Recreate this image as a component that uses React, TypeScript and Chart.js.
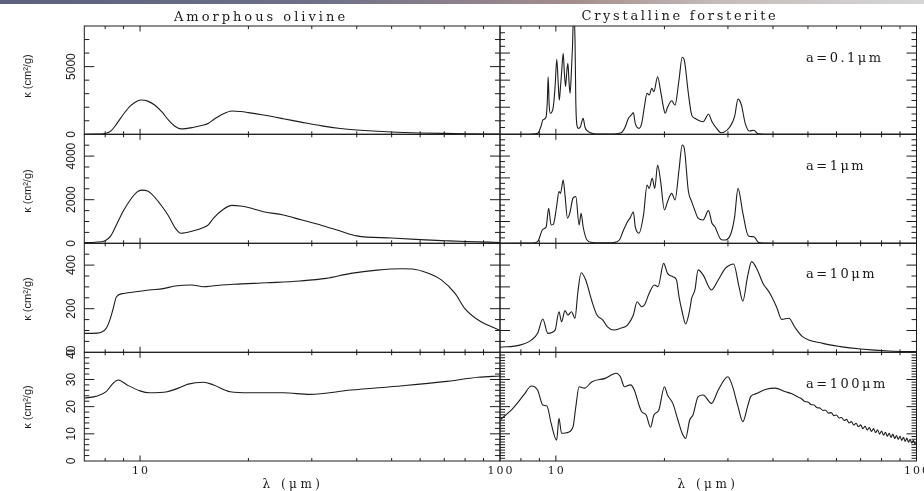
import React, { useEffect, useRef } from 'react';
import { Chart, registerables } from 'chart.js';

Chart.register(...registerables);

// ---------------- data ----------------
// Amorphous olivine, a = 0.1 um and a = 1 um (shared wavelength grid)
const AO_WAVE_SMALL = [7, 7.5, 8, 8.3, 8.6, 9.0, 9.4, 9.8, 10.1, 10.5, 11, 11.5, 12, 12.5, 13, 14, 15, 15.5, 16, 17, 18, 19, 20, 22, 25, 28, 32, 36, 40, 50, 60, 70, 80, 100];
const AO_KAPPA_01 = [5, 10, 60, 250, 750, 1500, 2100, 2450, 2530, 2450, 2150, 1650, 1050, 600, 400, 500, 680, 820, 1080, 1500, 1720, 1680, 1600, 1420, 1150, 900, 620, 430, 320, 170, 100, 65, 45, 20];
const AO_KAPPA_1 = [30, 50, 120, 350, 850, 1500, 2000, 2350, 2440, 2400, 2100, 1700, 1250, 720, 460, 560, 720, 860, 1150, 1550, 1740, 1710, 1640, 1450, 1300, 1080, 820, 560, 340, 240, 170, 120, 80, 40];

// Amorphous olivine, a = 10 um
const AO_WAVE_10 = [7, 7.6, 8.05, 8.25, 8.4, 8.6, 9.0, 10, 10.6, 11.6, 12.5, 13.9, 15, 16, 18.2, 22.5, 27.8, 32.9, 38.5, 45.5, 53.6, 57, 62.6, 68.7, 75, 80, 87, 100];
const AO_KAPPA_10 = [87, 88, 110, 150, 194, 255, 270, 280, 286, 292, 304, 309, 301, 305, 312, 319, 327, 339, 362, 377, 383, 382, 365, 332, 270, 199, 148, 100];

// Amorphous olivine, a = 100 um
const AO_WAVE_100 = [7, 7.6, 8.05, 8.4, 8.7, 9.2, 10, 10.6, 11.9, 13, 13.6, 15, 16, 17.8, 20.2, 25, 29.6, 38.5, 53.6, 70, 87, 100];
const AO_KAPPA_100 = [23.1, 23.9, 25.5, 28.5, 29.8, 28, 25.8, 25.1, 25.5, 27.2, 28.3, 29.0, 28, 25.5, 25.1, 25.1, 24.5, 26.1, 27.7, 29.2, 30.8, 31.3];

// Crystalline forsterite, a = 0.1 um
const CF_WAVE_01 = [7, 8, 8.6, 8.9, 9.1, 9.2, 9.4, 9.47, 9.52, 9.58, 9.65, 9.84, 9.95, 10.06, 10.15, 10.22, 10.3, 10.37, 10.48, 10.56, 10.64, 10.72, 10.8, 10.88, 10.95, 11.05, 11.12, 11.2, 11.3, 11.36, 11.45, 11.55, 11.7, 11.9, 12.05, 12.3, 12.6, 13.5, 14.5, 15.0, 15.3, 15.6, 15.9, 16.2, 16.4, 16.6, 17.0, 17.3, 17.6, 17.9, 18.15, 18.45, 18.7, 19.15, 19.5, 19.9, 20.1, 20.4, 20.95, 21.4, 21.95, 22.4, 22.7, 23.3, 23.8, 24.3, 25, 25.6, 26.5, 27.1, 27.9, 28.7, 29.2, 30.4, 31.3, 32, 32.7, 33.5, 34.4, 35.4, 36.4, 38, 45, 100];
const CF_KAPPA_01 = [0, 0, 10, 70, 600, 1060, 1300, 2500, 4250, 2200, 1550, 2040, 3500, 5540, 3800, 2530, 3500, 4500, 5980, 4500, 3520, 4600, 5240, 3800, 3030, 4800, 6470, 9000, 7000, 2290, 600, 440, 560, 1180, 500, 200, 80, 10, 15, 80, 190, 600, 1180, 1430, 1600, 810, 440, 810, 2040, 3030, 2900, 3400, 3150, 4250, 3270, 1920, 1550, 1990, 2480, 2160, 4010, 5690, 5490, 3030, 1430, 1180, 1000, 930, 1480, 930, 440, 120, 150, 560, 1300, 2600, 2160, 810, 245, 300, 30, 5, 0, 0];

// Crystalline forsterite, a = 1 um
const CF_WAVE_1 = [7, 8.6, 8.9, 9.2, 9.4, 9.55, 9.7, 9.84, 10.05, 10.2, 10.3, 10.48, 10.6, 10.77, 10.93, 11.15, 11.36, 11.6, 11.75, 11.9, 12.2, 12.6, 13.2, 14.5, 15, 15.4, 15.8, 16.1, 16.4, 16.6, 17.0, 17.5, 17.9, 18.15, 18.5, 18.8, 19.15, 19.5, 20, 20.4, 20.95, 21.4, 21.95, 22.4, 22.7, 23.3, 23.8, 24.3, 24.8, 25.6, 26.5, 27.1, 27.6, 28.7, 29.5, 30.6, 31.3, 32, 33, 34.2, 35.4, 36.4, 37.4, 45, 100];
const CF_KAPPA_1 = [0, 10, 75, 640, 760, 1600, 840, 870, 1700, 2370, 2290, 2900, 2215, 1150, 1380, 2060, 2140, 840, 1380, 760, 150, 40, 20, 40, 150, 600, 990, 1190, 1450, 760, 460, 1300, 2670, 2520, 2980, 2520, 3590, 2900, 1530, 1910, 2290, 1990, 3360, 4510, 4360, 2400, 1910, 1500, 1150, 1070, 1500, 920, 760, 180, 150, 460, 1200, 2520, 1380, 335, 300, 50, 10, 0, 0];

// Crystalline forsterite, a = 10 um
const CF_WAVE_10 = [7, 7.95, 8.55, 8.9, 9.2, 9.5, 9.95, 10.2, 10.37, 10.6, 10.8, 11.05, 11.3, 11.5, 11.75, 12.1, 12.6, 13, 13.5, 13.9, 14.5, 15.1, 15.8, 16.4, 16.8, 17.3, 17.6, 18.15, 18.75, 19.2, 19.9, 20.4, 21.1, 21.6, 21.95, 22.4, 22.9, 23.5, 23.8, 24.3, 24.8, 25.6, 27, 28.2, 29.5, 30.4, 31.1, 32.2, 33, 34, 34.9, 36.2, 37.5, 39.2, 40.9, 42.3, 44.3, 45.9, 48.3, 55, 61.5, 70, 84, 100];
const CF_KAPPA_10 = [23, 33, 56, 87, 153, 87, 102, 186, 140, 191, 171, 186, 156, 271, 365, 332, 232, 171, 148, 117, 102, 110, 125, 171, 232, 209, 217, 271, 309, 301, 408, 362, 347, 332, 255, 186, 130, 194, 248, 286, 378, 355, 286, 332, 385, 400, 405, 301, 235, 347, 416, 378, 317, 271, 209, 151, 156, 117, 72, 41, 26, 15, 6, 3];

// Crystalline forsterite, a = 100 um
const CF_WAVE_100 = [7, 7.6, 8.15, 8.55, 8.9, 9.2, 9.45, 9.7, 10.05, 10.2, 10.37, 10.7, 11.15, 11.36, 11.6, 12, 12.6, 13.7, 14.7, 15.1, 15.5, 16.1, 16.5, 17, 17.3, 17.8, 18.3, 18.7, 19.3, 20, 20.4, 21.1, 21.8, 22.4, 22.9, 23.5, 24, 24.8, 25.6, 27, 28.2, 30, 30.8, 32, 33, 34, 34.7, 35.8, 38.3, 40.5, 43.3, 45,
  46, 47, 48, 49, 50, 51, 52, 53, 54, 55, 56, 57, 58, 59, 60, 61, 62, 63, 64, 65, 66, 67, 68, 69, 70, 71, 72, 73, 74, 75, 76, 77, 78, 79, 80, 81, 82, 83, 84, 85, 86, 87, 88, 89, 90, 91, 92, 93, 94, 95, 96, 97, 98, 99, 100];
const CF_KAPPA_100 = [15.1, 19.4, 24.3, 27.6, 26.1, 20.6, 20.2, 13.9, 7.7, 15.7, 10.2, 10.4, 12.4, 20, 27.3, 26.8, 29.2, 30.4, 32.3, 31, 27.3, 28, 26.1, 20.6, 18.1, 16.9, 12.4, 16.9, 18.8, 27.3, 24.3, 21.2, 15.1, 10.2, 8.3, 15.1, 16.9, 23.7, 24.3, 21.2, 26.1, 31, 28, 20, 14.5, 20, 23.7, 24.7, 26.4, 26.8, 25.5, 24.8,
  24.2, 23.5, 22.9, 21.9, 21.7, 20.8, 20.6, 19.6, 19.5, 18.6, 18.7, 17.6, 17.8, 16.7, 16.9, 15.8, 16.0, 14.9, 15.3, 14.0, 14.5, 13.2, 13.9, 12.6, 13.3, 11.9, 12.8, 11.4, 12.3, 10.9, 11.9, 10.4, 11.5, 9.9, 11.0, 9.5, 10.6, 9.1, 10.2, 8.7, 9.9, 8.3, 9.4, 8.0, 9.1, 7.6, 8.7, 7.2, 8.4, 6.9, 8.0, 6.6, 7.6, 6.3, 7.0];

// axes / labels
const X_MIN = 7;
const X_MAX = 100;
const X_MINOR_TICKS = [8, 9, 20, 30, 40, 50, 60, 70, 80, 90];
const X_MAJOR_TICKS = [10];
const X_TICK_LABELS = [10, 100];
const Y_MAX = [8000, 5000, 500, 40];
const LEFT_Y_MAJOR = [5000, 2000, 200, 10];
const LEFT_Y_MINOR = [1000, 500, 50, 2];
const RIGHT_Y_MAJOR = [2000, 1000, 100, 10];
const RIGHT_Y_MINOR = [500, 250, 50, 1];
const LEFT_Y_LABELS = [[0, 5000], [0, 2000, 4000], [0, 200, 400], [0, 10, 20, 30, 40]];
const SIZE_LABELS = ['a=0.1\u03bcm', 'a=1\u03bcm', 'a=10\u03bcm', 'a=100\u03bcm'];
const COLUMN_TITLES = ['Amorphous olivine', 'Crystalline forsterite'];
const X_TITLE = '\u03bb  (\u03bcm)';
const Y_TITLE = '\u03ba (cm\u00b2/g)';

// ---------------- layout ----------------
const W = 924;
const H = 491;
const COLS = [
  { left: 84.3, right: 500 },
  { left: 500, right: 916.5 },
];
const ROWS = [
  { top: 26, bottom: 134.3 },
  { top: 134.3, bottom: 243.3 },
  { top: 243.3, bottom: 352.3 },
  { top: 352.3, bottom: 461 },
];
const INK = '#1c1c1c';
const LABEL_Y = [57, 165, 273, 383];
const YTITLE_Y = [76, 191, 299, 407];

const PANELS = [
  { row: 0, col: 0, xs: AO_WAVE_SMALL, ys: AO_KAPPA_01 },
  { row: 1, col: 0, xs: AO_WAVE_SMALL, ys: AO_KAPPA_1 },
  { row: 2, col: 0, xs: AO_WAVE_10, ys: AO_KAPPA_10 },
  { row: 3, col: 0, xs: AO_WAVE_100, ys: AO_KAPPA_100 },
  { row: 0, col: 1, xs: CF_WAVE_01, ys: CF_KAPPA_01 },
  { row: 1, col: 1, xs: CF_WAVE_1, ys: CF_KAPPA_1 },
  { row: 2, col: 1, xs: CF_WAVE_10, ys: CF_KAPPA_10 },
  { row: 3, col: 1, xs: CF_WAVE_100, ys: CF_KAPPA_100 },
];

function makeFramePlugin(row: number, col: number) {
  return {
    id: 'frame_' + row + '_' + col,
    afterDatasetsDraw(chart: any) {
      const ctx: CanvasRenderingContext2D = chart.ctx;
      const { left, right, top, bottom } = chart.chartArea;
      const xs = chart.scales.x;
      const ys = chart.scales.y;
      ctx.save();
      ctx.strokeStyle = INK;
      ctx.lineWidth = 1;
      ctx.strokeRect(left, top, right - left, bottom - top);
      ctx.beginPath();
      for (const v of X_MINOR_TICKS) {
        const p = xs.getPixelForValue(v);
        ctx.moveTo(p, bottom); ctx.lineTo(p, bottom - 3);
        ctx.moveTo(p, top); ctx.lineTo(p, top + 3);
      }
      for (const v of X_MAJOR_TICKS) {
        const p = xs.getPixelForValue(v);
        ctx.moveTo(p, bottom); ctx.lineTo(p, bottom - 5.5);
        ctx.moveTo(p, top); ctx.lineTo(p, top + 5.5);
      }
      const major = col === 0 ? LEFT_Y_MAJOR[row] : RIGHT_Y_MAJOR[row];
      const minor = col === 0 ? LEFT_Y_MINOR[row] : RIGHT_Y_MINOR[row];
      const n = Math.round(Y_MAX[row] / minor);
      for (let i = 1; i < n; i++) {
        const v = i * minor;
        const isMajor = Math.abs(v / major - Math.round(v / major)) < 1e-6;
        const len = isMajor ? 10 : 5;
        const p = ys.getPixelForValue(v);
        ctx.moveTo(left, p); ctx.lineTo(left + len, p);
        ctx.moveTo(right, p); ctx.lineTo(right - len, p);
      }
      ctx.stroke();

      ctx.fillStyle = '#1a1a1a';
      if (col === 0) {
        ctx.font = '12px "Liberation Sans", Arial, sans-serif';
        ctx.textAlign = 'center';
        ctx.textBaseline = 'middle';
        for (const v of LEFT_Y_LABELS[row]) {
          const p = ys.getPixelForValue(v);
          ctx.save();
          ctx.translate(72, p);
          ctx.rotate(-Math.PI / 2);
          ctx.fillText(String(v), 0, 0);
          ctx.restore();
        }
      }
      if (row === 3) {
        ctx.font = '11px "DejaVu Serif", serif';
        (ctx as any).letterSpacing = '2px';
        ctx.textAlign = 'center';
        ctx.textBaseline = 'middle';
        for (const v of X_TICK_LABELS) {
          const p = xs.getPixelForValue(v);
          ctx.fillText(String(v), p + 1, 471);
        }
      }
      ctx.restore();
    },
  };
}

export default function App() {
  const refs = useRef<(HTMLCanvasElement | null)[]>([]);

  useEffect(() => {
    const charts = PANELS.map((p, i) => {
      const canvas = refs.current[i] as HTMLCanvasElement;
      const c = COLS[p.col];
      const r = ROWS[p.row];
      return new Chart(canvas, {
        type: 'line',
        data: {
          datasets: [
            {
              data: p.xs.map((x, k) => ({ x, y: p.ys[k] })),
              borderColor: INK,
              borderWidth: 1.1,
              pointRadius: 0,
              fill: false,
              cubicInterpolationMode: 'monotone',
            },
          ],
        },
        options: {
          responsive: false,
          maintainAspectRatio: false,
          animation: false,
          events: [],
          layout: {
            padding: { left: c.left, right: W - c.right, top: r.top, bottom: H - r.bottom },
          },
          plugins: { legend: { display: false }, tooltip: { enabled: false } },
          scales: {
            x: { type: 'logarithmic', min: X_MIN, max: X_MAX, display: false },
            y: { type: 'linear', min: 0, max: Y_MAX[p.row], display: false },
          },
        } as any,
        plugins: [makeFramePlugin(p.row, p.col)],
      });
    });
    return () => charts.forEach((ch) => ch.destroy());
  }, []);

  const serif = '"DejaVu Serif", serif';
  const abs = (extra: any) => ({ position: 'absolute' as const, whiteSpace: 'nowrap' as const, color: '#1a1a1a', ...extra });

  return (
    <div style={{ position: 'absolute', left: 0, top: 0, width: W, height: H, background: '#fff', overflow: 'hidden' }}>
      <div
        style={{
          position: 'absolute', left: 0, top: 0, width: W, height: 4,
          background: 'linear-gradient(to right, #5b617c 0%, #6f7189 35%, #a48d8c 62%, #c4bcba 78%, #d6d6d6 100%)',
        }}
      />
      {PANELS.map((p, i) => (
        <canvas
          key={i}
          ref={(el) => { refs.current[i] = el; }}
          width={W}
          height={H}
          style={{ position: 'absolute', left: 0, top: 0, width: W, height: H }}
        />
      ))}
      <div style={abs({ left: 261, top: 16, transform: 'translate(-50%,-50%)', font: `13px ${serif}`, letterSpacing: '3px' })}>
        {COLUMN_TITLES[0]}
      </div>
      <div style={abs({ left: 680, top: 15, transform: 'translate(-50%,-50%)', font: `13px ${serif}`, letterSpacing: '2.7px' })}>
        {COLUMN_TITLES[1]}
      </div>
      {SIZE_LABELS.map((s, i) => (
        <div key={s} style={abs({ left: 806, top: LABEL_Y[i], transform: 'translateY(-50%)', font: `13px ${serif}`, letterSpacing: '2.5px' })}>
          {s}
        </div>
      ))}
      <div style={abs({ left: 293, top: 484, transform: 'translate(-50%,-50%)', font: `12px ${serif}`, letterSpacing: '3.5px' })}>{X_TITLE}</div>
      <div style={abs({ left: 708, top: 484, transform: 'translate(-50%,-50%)', font: `12px ${serif}`, letterSpacing: '3.5px' })}>{X_TITLE}</div>
      {YTITLE_Y.map((y, i) => (
        <div key={i} style={abs({ left: 27, top: y, transform: 'translate(-50%,-50%) rotate(-90deg)', font: '11px "Liberation Sans", Arial, sans-serif' })}>
          {Y_TITLE}
        </div>
      ))}
    </div>
  );
}
